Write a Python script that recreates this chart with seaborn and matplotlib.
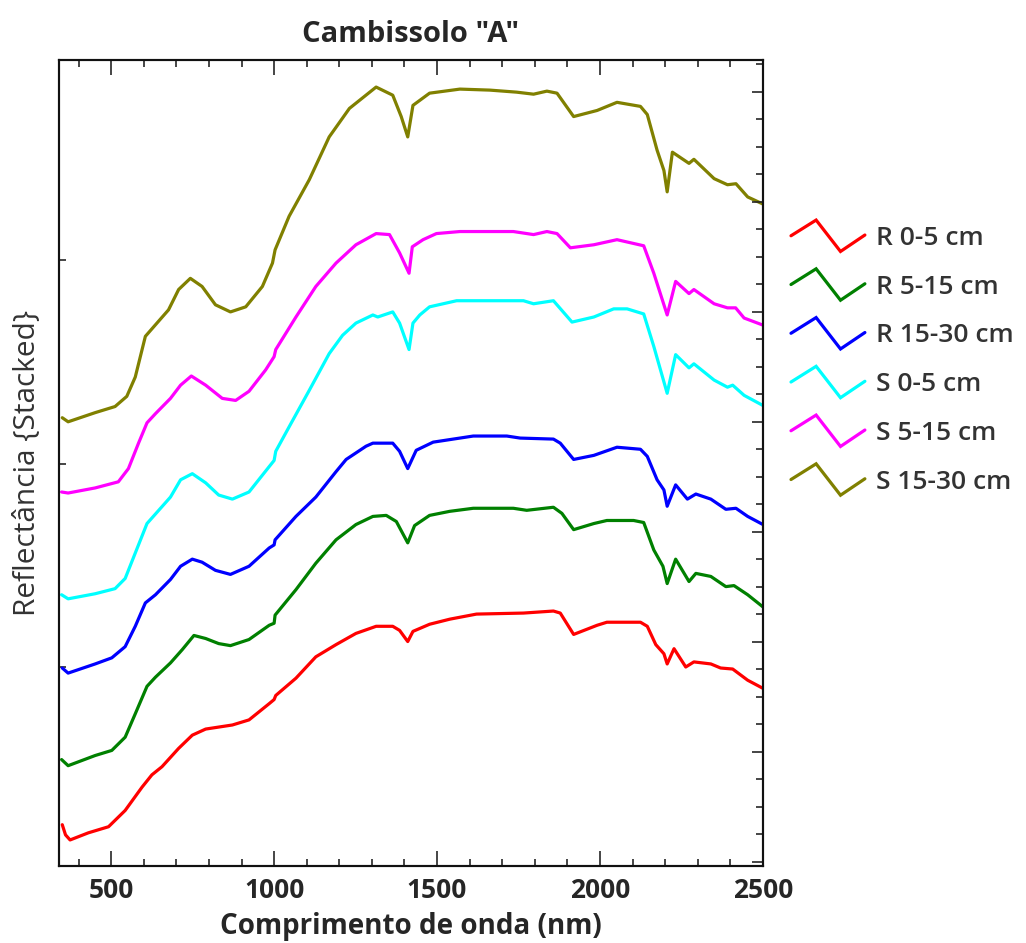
import numpy as np
import pandas as pd
import matplotlib
matplotlib.use("Agg")
import matplotlib.pyplot as plt
import seaborn as sns
from matplotlib.lines import Line2D
from matplotlib.legend_handler import HandlerBase
from matplotlib.ticker import MultipleLocator, NullFormatter

# stacked reflectance curves (arbitrary units, already offset)
wl_r05 = [350, 360, 374, 430, 492, 543, 595, 625, 656, 707, 749, 790, 872, 923, 985, 1000, 1005,
          1067, 1128, 1190, 1251, 1313, 1364, 1385, 1410, 1426, 1477, 1539, 1621, 1765, 1857, 1878,
          1919, 1991, 2021, 2124, 2145, 2171, 2196, 2206, 2227, 2263, 2288, 2340, 2370, 2407, 2453, 2500]
r05 = [0.045, 0.035, 0.030, 0.037, 0.043, 0.059, 0.082, 0.094, 0.102, 0.120, 0.133, 0.139, 0.143, 0.148,
       0.164, 0.168, 0.172, 0.189, 0.210, 0.222, 0.233, 0.240, 0.240, 0.236, 0.225, 0.235, 0.242, 0.247,
       0.252, 0.253, 0.255, 0.253, 0.232, 0.241, 0.244, 0.244, 0.240, 0.222, 0.213, 0.203, 0.218, 0.200,
       0.205, 0.203, 0.199, 0.198, 0.187, 0.179]

wl_r515 = [348, 368, 451, 502, 543, 574, 610, 636, 682, 718, 754, 790, 830, 866, 923, 985, 1000, 1003,
           1067, 1128, 1190, 1251, 1303, 1344, 1375, 1410, 1431, 1477, 1539, 1611, 1734, 1775, 1857, 1883,
           1919, 1981, 2021, 2103, 2134, 2165, 2193, 2206, 2232, 2273, 2294, 2340, 2386, 2411, 2453, 2500]
r515 = [0.109, 0.103, 0.113, 0.118, 0.131, 0.154, 0.181, 0.190, 0.204, 0.217, 0.231, 0.228, 0.223, 0.221,
        0.227, 0.241, 0.243, 0.251, 0.276, 0.302, 0.325, 0.340, 0.348, 0.349, 0.343, 0.322, 0.339, 0.349,
        0.353, 0.356, 0.356, 0.354, 0.357, 0.351, 0.335, 0.341, 0.344, 0.344, 0.342, 0.315, 0.299, 0.282,
        0.306, 0.284, 0.292, 0.289, 0.279, 0.280, 0.271, 0.259]

wl_r1530 = [350, 368, 451, 502, 543, 574, 605, 636, 682, 713, 749, 779, 820, 866, 923, 985, 1000, 1003,
            1067, 1128, 1190, 1221, 1282, 1303, 1364, 1385, 1410, 1436, 1488, 1570, 1611, 1714, 1755, 1857,
            1878, 1919, 1981, 2052, 2124, 2145, 2175, 2196, 2206, 2232, 2268, 2294, 2340, 2386, 2417, 2453, 2500]
r1530 = [0.199, 0.194, 0.203, 0.209, 0.220, 0.240, 0.263, 0.271, 0.286, 0.299, 0.306, 0.303, 0.295, 0.291,
         0.299, 0.317, 0.320, 0.325, 0.348, 0.367, 0.392, 0.404, 0.417, 0.420, 0.420, 0.412, 0.395, 0.413,
         0.421, 0.425, 0.427, 0.427, 0.425, 0.424, 0.420, 0.404, 0.408, 0.416, 0.414, 0.407, 0.384, 0.374,
         0.358, 0.379, 0.365, 0.370, 0.365, 0.355, 0.356, 0.348, 0.340]

wl_s05 = [348, 368, 451, 512, 543, 574, 610, 646, 682, 713, 749, 790, 830, 872, 923, 985, 1000, 1005,
          1046, 1108, 1169, 1210, 1251, 1303, 1318, 1364, 1385, 1414, 1426, 1447, 1477, 1560, 1765, 1796,
          1857, 1914, 1981, 2042, 2083, 2134, 2165, 2206, 2232, 2273, 2288, 2350, 2391, 2407, 2442, 2500]
s05 = [0.271, 0.267, 0.272, 0.277, 0.287, 0.312, 0.341, 0.354, 0.367, 0.384, 0.390, 0.381, 0.369, 0.365,
       0.372, 0.397, 0.403, 0.412, 0.436, 0.472, 0.508, 0.526, 0.538, 0.546, 0.544, 0.549, 0.538, 0.512,
       0.538, 0.546, 0.554, 0.560, 0.560, 0.557, 0.560, 0.539, 0.544, 0.552, 0.552, 0.547, 0.515, 0.469,
       0.507, 0.494, 0.498, 0.482, 0.475, 0.477, 0.467, 0.457]

wl_s515 = [348, 368, 451, 522, 553, 584, 610, 636, 682, 713, 746, 790, 841, 882, 923, 974, 1000, 1005,
           1067, 1128, 1190, 1251, 1313, 1354, 1385, 1414, 1424, 1457, 1498, 1570, 1734, 1796, 1837, 1868,
           1909, 1981, 2052, 2134, 2165, 2206, 2232, 2273, 2288, 2350, 2391, 2416, 2442, 2500]
s515 = [0.372, 0.371, 0.376, 0.382, 0.395, 0.420, 0.440, 0.449, 0.464, 0.477, 0.486, 0.477, 0.464, 0.462,
        0.471, 0.492, 0.505, 0.512, 0.544, 0.574, 0.597, 0.615, 0.626, 0.625, 0.607, 0.587, 0.613, 0.620,
        0.626, 0.628, 0.628, 0.625, 0.628, 0.626, 0.612, 0.615, 0.620, 0.614, 0.587, 0.546, 0.579, 0.567,
        0.571, 0.557, 0.553, 0.553, 0.543, 0.536]

wl_s1530 = [350, 368, 451, 512, 548, 574, 605, 635, 676, 707, 743, 779, 820, 866, 913, 964, 995, 1003,
            1046, 1108, 1169, 1231, 1313, 1364, 1390, 1410, 1426, 1477, 1570, 1662, 1744, 1796, 1837, 1868,
            1919, 1991, 2052, 2124, 2145, 2175, 2196, 2206, 2222, 2273, 2288, 2350, 2391, 2417, 2453, 2500]
s1530 = [0.445, 0.441, 0.450, 0.456, 0.466, 0.485, 0.525, 0.536, 0.551, 0.571, 0.582, 0.574, 0.556, 0.549,
         0.554, 0.574, 0.597, 0.610, 0.643, 0.679, 0.721, 0.749, 0.770, 0.762, 0.741, 0.721, 0.752, 0.764,
         0.768, 0.767, 0.765, 0.763, 0.766, 0.764, 0.741, 0.747, 0.755, 0.751, 0.743, 0.708, 0.688, 0.667,
         0.706, 0.695, 0.699, 0.680, 0.674, 0.675, 0.662, 0.655]

labels = ["R 0-5 cm", "R 5-15 cm", "R 15-30 cm", "S 0-5 cm", "S 5-15 cm", "S 15-30 cm"]
colors = ["#ff0000", "#008000", "#0000ff", "#00ffff", "#ff00ff", "#808000"]

curves = [(wl_r05, r05), (wl_r515, r515), (wl_r1530, r1530),
          (wl_s05, s05), (wl_s515, s515), (wl_s1530, s1530)]
frames = []
for lab, (w, v) in zip(labels, curves):
    frames.append(pd.DataFrame({"wl": w, "refl": v, "amostra": lab}))
df = pd.concat(frames, ignore_index=True)

sns.set_style("ticks")
plt.rcParams["font.family"] = ["Open Sans", "DejaVu Sans"]
txt = "#262626"


class ZigzagHandler(HandlerBase):
    # zigzag legend symbol like the Origin one
    def create_artists(self, legend, orig_handle, xdescent, ydescent, width, height, fontsize, trans):
        cy = height / 2 - ydescent
        xs = np.array([0.0, 0.34, 0.67, 1.0]) * width - xdescent
        ys = cy + np.array([0.0, 0.85, -0.85, 0.04]) * height
        ln = Line2D(xs, ys, color=orig_handle.get_color(), lw=orig_handle.get_linewidth(),
                    solid_joinstyle="miter")
        ln.set_transform(trans)
        return [ln]


fig = plt.figure(figsize=(10.26, 9.43), dpi=100)
ax = fig.add_axes([59 / 1026, 77 / 943, 704 / 1026, 806 / 943])

sns.lineplot(data=df, x="wl", y="refl", hue="amostra", hue_order=labels,
             palette=dict(zip(labels, colors)), linewidth=2.3, sort=False,
             estimator=None, legend=False, ax=ax)

ax.set_xlim(340, 2500)
ax.set_ylim(0.0044, 0.7966)
ax.xaxis.set_major_locator(MultipleLocator(500))
ax.xaxis.set_minor_locator(MultipleLocator(100))
ax.set_yticks([0.2, 0.4, 0.6])
ax.tick_params(axis="x", which="major", direction="in", length=11, width=1.2, top=True,
               labelsize=19, labelcolor=txt, pad=8)
ax.tick_params(axis="x", which="minor", direction="in", length=5, width=1.2, top=True)
ax.tick_params(axis="y", which="major", direction="in", length=5, width=1.2,
               left=True, right=False, labelleft=False)
for lab in ax.get_xticklabels():
    lab.set_fontweight("bold")
for sp in ax.spines.values():
    sp.set_linewidth(1.5)
    sp.set_color("#111111")

# right axis has its own tick spacing
ax2 = ax.twinx()
ax2.set_ylim(-0.039, 7.288)
ax2.yaxis.set_major_locator(MultipleLocator(1))
ax2.yaxis.set_minor_locator(MultipleLocator(0.25))
ax2.yaxis.set_major_formatter(NullFormatter())
ax2.tick_params(axis="y", which="major", direction="in", length=8, width=1.2)
ax2.tick_params(axis="y", which="minor", direction="in", length=5, width=1.2)
for sp in ax2.spines.values():
    sp.set_linewidth(1.5)
    sp.set_color("#111111")

ax.set_xlabel("Comprimento de onda (nm)", fontsize=20, fontweight="bold", color=txt, labelpad=6)
ax.set_ylabel("Reflectância {Stacked}", fontsize=21.5, color="#333333", labelpad=12)
ax.set_title('Cambissolo "A"', fontsize=21, fontweight="bold", color=txt, pad=13)

handles = [Line2D([], [], color=c, lw=2.3) for c in colors]
fig.legend(handles, labels, loc="upper left", bbox_to_anchor=(791 / 1026, 1 - 226 / 943),
           handler_map={Line2D: ZigzagHandler()}, frameon=False,
           handlelength=2.8, handleheight=0.7, handletextpad=0.42, labelspacing=0.9,
           borderpad=0, borderaxespad=0,
           prop={"weight": "semibold", "size": 19})
for t in fig.legends[0].get_texts():
    t.set_color("#333333")

fig.savefig("out.png", dpi=100)
